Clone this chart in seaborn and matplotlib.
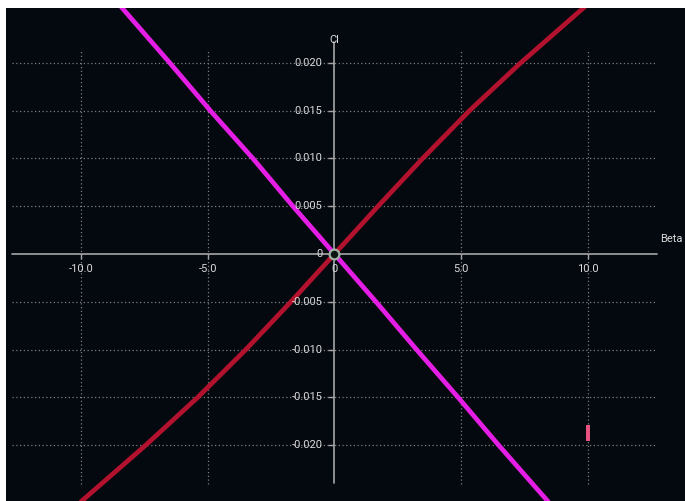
import matplotlib
matplotlib.use("Agg")
import matplotlib.pyplot as plt
import seaborn as sns

# Rolling-moment coefficient Cl versus sideslip angle Beta
red_beta = [-10.5, -9.96, -7.45, -5.4, -3.5, -1.72, 0.0, 1.72, 3.48, 5.33, 7.35, 9.85, 10.4]
red_cl = [-0.0272, -0.0258, -0.020, -0.015, -0.010, -0.005, 0.0, 0.005, 0.010, 0.015, 0.020, 0.0258, 0.0271]

magenta_beta = [-8.8, -8.4, -6.5, -4.9, -3.22, -1.64, 0.0, 1.64, 3.24, 4.88, 6.48, 8.4, 8.8]
magenta_cl = [0.0271, 0.0258, 0.020, 0.015, 0.010, 0.005, 0.0, -0.005, -0.010, -0.015, -0.020, -0.0258, -0.0271]

# Single marker bar at Beta = 10
marker_beta = [10.0]
marker_low = [-0.01956]
marker_high = [-0.01788]

x_ticks = [-10.0, -5.0, 5.0, 10.0]
x_tick_labels = ["-10.0", "-5.0", "5.0", "10.0"]
y_ticks = [0.020, 0.015, 0.010, 0.005, -0.005, -0.010, -0.015, -0.020]
y_tick_labels = ["0.020", "0.015", "0.010", "0.005", "-0.005", "-0.010", "-0.015", "-0.020"]

BG = "#04080f"
AXIS = "#a6a6a6"
GRID = "#7e7e7e"
TEXT = "#dadada"
RED = "#b3122e"
MAGENTA = "#e41ee4"
PINK = "#e8527e"

sns.set_theme(style="dark")
plt.rcParams["font.family"] = ["Roboto", "DejaVu Sans"]

fig = plt.figure(figsize=(6.85, 5.01), dpi=100, facecolor="white")
ax = fig.add_axes([6 / 685, 0, 679 / 685, 493 / 501])
ax.set_facecolor(BG)
for s in ax.spines.values():
    s.set_visible(False)
ax.set_xticks([])
ax.set_yticks([])
ax.grid(False)

xmin, xmax = -12.96, 13.83
ymin, ymax = -0.02583, 0.02573
ax.set_xlim(xmin, xmax)
ax.set_ylim(ymin, ymax)

# pixel-size helpers in data units
px_x = (xmax - xmin) / 679
px_y = (ymax - ymin) / 493

# dotted grid
x_ext = 12.72
ax.hlines(y_ticks, -x_ext, x_ext, colors=GRID, linestyles=(0, (1, 2)), lw=0.9, zorder=1)
ax.vlines(x_ticks, -0.0240, 0.0213, colors=GRID, linestyles=(0, (1, 2)), lw=0.9, zorder=1)

# axis lines through the origin
ax.plot([-x_ext, x_ext], [0, 0], color=AXIS, lw=1.2, zorder=2)
ax.plot([0, 0], [-0.02395, 0.02217], color=AXIS, lw=1.2, zorder=2)

# tick marks
tick_len_x = 6 * px_x
tick_len_y = 5 * px_y
ax.hlines(y_ticks, -tick_len_x, 0, colors=AXIS, lw=1.0, zorder=2)
ax.vlines(x_ticks, -tick_len_y, 0, colors=AXIS, lw=1.0, zorder=2)

# data lines
sns.lineplot(x=red_beta, y=red_cl, color=RED, lw=3.4, sort=False, ax=ax, zorder=3)
sns.lineplot(x=magenta_beta, y=magenta_cl, color=MAGENTA, lw=3.4, sort=False, ax=ax, zorder=4)

# marker bar
ax.bar(marker_beta, [h - l for h, l in zip(marker_high, marker_low)], bottom=marker_low,
       width=0.19, color=PINK, linewidth=0, zorder=5)

# origin marker
ax.plot([0], [0], marker="o", ms=7, mfc="#0b1512", mec="#9fb0a4", mew=1.6, zorder=6)

# tick labels
fs = 8
for v, t in zip(y_ticks, y_tick_labels):
    ax.text(-12 * px_x, v, t, ha="right", va="center", color=TEXT, fontsize=fs, zorder=7)
for v, t in zip(x_ticks, x_tick_labels):
    ax.text(v, -10 * px_y, t, ha="center", va="top", color=TEXT, fontsize=fs, zorder=7)
ax.text(-12 * px_x, 0, "0", ha="right", va="center", color=TEXT, fontsize=fs, zorder=7)
ax.text(0, -10 * px_y, "0", ha="center", va="top", color=TEXT, fontsize=fs, zorder=7)

# axis titles
ax.text(0, 0.02238, "Cl", ha="center", va="center", color=TEXT, fontsize=fs, zorder=7)
ax.text(12.84, 15 * px_y, "Beta", ha="left", va="center", color=TEXT, fontsize=fs, zorder=7)

fig.savefig("out.png", dpi=100, facecolor="white")
